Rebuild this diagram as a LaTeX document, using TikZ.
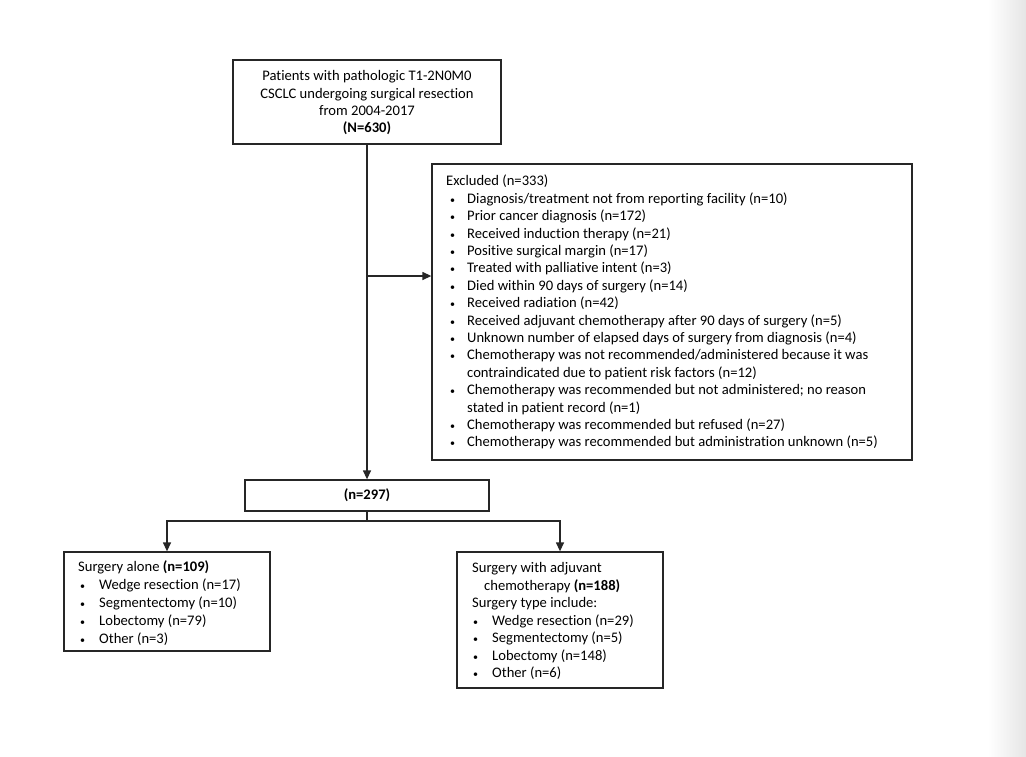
\documentclass[tikz,border=0pt]{standalone}
\usepackage{fontspec}
\setmainfont{Carlito}[Ligatures=NoCommon]
\usetikzlibrary{arrows.meta}
\newcommand\smallbul{{\fontsize{10}{10}\selectfont\textbullet}}
\begin{document}
\begin{tikzpicture}[x=1pt,y=-1pt,
  box/.style={draw=black!85, line width=1.3pt, inner sep=0pt},
  txt/.style={anchor=mid west, inner sep=0pt, font=\fontsize{14.6}{17.3}\selectfont},
  bul/.style={anchor=mid west, inner sep=0pt, font=\fontsize{10}{10}\selectfont},
  ctxt/.style={anchor=mid, inner sep=0pt, font=\fontsize{14.6}{17.3}\selectfont},
  conn/.style={draw=black!85, line width=1.3pt},
  arr/.style={conn, -{Triangle[length=9pt,width=8pt]}}]
\useasboundingbox (0,0) rectangle (1026,756);
\fill[white] (0,0) rectangle (1026,756);
\shade[left color=white, right color=black!10] (988,0) rectangle (1026,756);

% boxes
\node[box, minimum width=268pt, minimum height=84pt] (top) at (367,102) {};
\node[box, minimum width=480pt, minimum height=296pt] (excl) at (672,312) {};
\node[box, minimum width=244pt, minimum height=31pt] (n297) at (367,495.5) {};
\node[box, minimum width=206pt, minimum height=99pt] (left) at (167,601.5) {};
\node[box, minimum width=206pt, minimum height=136pt] (right) at (560,620) {};

% top box text
\node[ctxt] (t1) at (367,78.5) {Patients with pathologic T1-2N0M0};
\node[ctxt] (t2) at (367,96) {CSCLC undergoing surgical resection};
\node[ctxt] (t3) at (367,113.5) {from 2004-2017};
\node[ctxt] (t4) at (367,130.5) {\textbf{(N=630)}};

% excluded text
\node[txt] (ex0) at (446,183.5) {Excluded (n=333)};
\node[bul] (exb1) at (450,201) {\textbullet};
\node[txt] (ex1) at (467,201) {Diagnosis/treatment not from reporting facility (n=10)};
\node[bul] (exb2) at (450,218.4) {\textbullet};
\node[txt] (ex2) at (467,218.4) {Prior cancer diagnosis (n=172)};
\node[bul] (exb3) at (450,235.8) {\textbullet};
\node[txt] (ex3) at (467,235.8) {Received induction therapy (n=21)};
\node[bul] (exb4) at (450,253.2) {\textbullet};
\node[txt] (ex4) at (467,253.2) {Positive surgical margin (n=17)};
\node[bul] (exb5) at (450,270.6) {\textbullet};
\node[txt] (ex5) at (467,270.6) {Treated with palliative intent (n=3)};
\node[bul] (exb6) at (450,288) {\textbullet};
\node[txt] (ex6) at (467,288) {Died within 90 days of surgery (n=14)};
\node[bul] (exb7) at (450,305.4) {\textbullet};
\node[txt] (ex7) at (467,305.4) {Received radiation (n=42)};
\node[bul] (exb8) at (450,322.8) {\textbullet};
\node[txt] (ex8) at (467,322.8) {Received adjuvant chemotherapy after 90 days of surgery (n=5)};
\node[bul] (exb9) at (450,340.2) {\textbullet};
\node[txt] (ex9) at (467,340.2) {Unknown number of elapsed days of surgery from diagnosis (n=4)};
\node[bul] (exb10) at (450,357.6) {\textbullet};
\node[txt] (ex10) at (467,357.6) {Chemotherapy was not recommended/administered because it was};
\node[txt] (ex11) at (467,375) {contraindicated due to patient risk factors (n=12)};
\node[bul] (exb12) at (450,392.4) {\textbullet};
\node[txt] (ex12) at (467,392.4) {Chemotherapy was recommended but not administered; no reason};
\node[txt] (ex13) at (467,409.8) {stated in patient record (n=1)};
\node[bul] (exb14) at (450,427.2) {\textbullet};
\node[txt] (ex14) at (467,427.2) {Chemotherapy was recommended but refused (n=27)};
\node[bul] (exb15) at (450,444.6) {\textbullet};
\node[txt] (ex15) at (467,444.6) {Chemotherapy was recommended but administration unknown (n=5)};

% n=297
\node[ctxt] (n297t) at (367,497.5) {\textbf{(n=297)}};

% left box text
\node[txt] (l0) at (78,569.5) {Surgery alone \textbf{(n=109)}};
\node[bul] (lb1) at (80,587.5) {\textbullet};
\node[txt] (l1) at (99,587.5) {Wedge resection (n=17)};
\node[bul] (lb2) at (80,605.5) {\textbullet};
\node[txt] (l2) at (99,605.5) {Segmentectomy (n=10)};
\node[bul] (lb3) at (80,623.5) {\textbullet};
\node[txt] (l3) at (99,623.5) {Lobectomy (n=79)};
\node[bul] (lb4) at (80,641.5) {\textbullet};
\node[txt] (l4) at (99,641.5) {Other (n=3)};

% right box text
\node[txt] (r0) at (472,570.5) {Surgery with adjuvant};
\node[txt] (r1) at (484,588) {chemotherapy \textbf{(n=188)}};
\node[txt] (r2) at (472,605.5) {Surgery type include:};
\node[bul] (rb3) at (473,623) {\textbullet};
\node[txt] (r3) at (492,623) {Wedge resection (n=29)};
\node[bul] (rb4) at (473,640.5) {\textbullet};
\node[txt] (r4) at (492,640.5) {Segmentectomy (n=5)};
\node[bul] (rb5) at (473,658) {\textbullet};
\node[txt] (r5) at (492,658) {Lobectomy (n=148)};
\node[bul] (rb6) at (473,675.5) {\textbullet};
\node[txt] (r6) at (492,675.5) {Other (n=6)};

% connectors
\draw[arr] (top.south) -- (n297.north);
\coordinate (j1) at (367,276);
\draw[arr] (j1) -- (j1 -| excl.west);
\coordinate (j2) at (367,521);
\draw[conn] (n297.south) -- (j2);
\draw[arr] (j2) -| (left.north);
\draw[arr] (j2) -| (right.north);
\end{tikzpicture}
\end{document}
